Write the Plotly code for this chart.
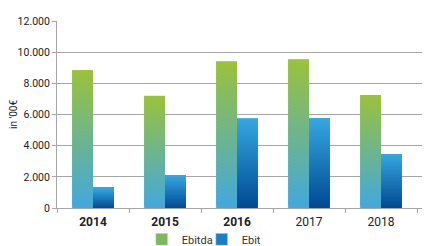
import plotly.graph_objects as go

years = ["2014", "2015", "2016", "2017", "2018"]
year_labels = ["<b>2014</b>", "<b>2015</b>", "<b>2016</b>", "2017", "2018"]
ebitda = [8850, 7200, 9420, 9550, 7250]
ebit = [1300, 2100, 5760, 5770, 3460]
y_ticks = [0, 2000, 4000, 6000, 8000, 10000, 12000]

N = 40

def lerp(c1, c2, t):
    return "rgb(%d,%d,%d)" % tuple(round(a + (b - a) * t) for a, b in zip(c1, c2))

series = [
    ("Ebitda", ebitda, (66, 168, 222), (155, 194, 58), "0", "#7fb85c"),
    ("Ebit", ebit, (0, 74, 146), (54, 167, 225), "1", "#1a7fc6"),
]

fig = go.Figure()
for name, vals, c_bot, c_top, og, legcol in series:
    for k in range(N):
        t = (k + 0.5) / N
        col = lerp(c_bot, c_top, t)
        h = 1.0 if k == N - 1 else 1.8
        fig.add_trace(go.Bar(
            x=years,
            y=[v * h / N for v in vals],
            base=[v * k / N for v in vals],
            offsetgroup=og,
            marker=dict(color=col, line=dict(width=0)),
            showlegend=False,
            legendgroup=name,
            hoverinfo="skip",
        ))
    fig.add_trace(go.Bar(
        x=[None], y=[None], name=name, offsetgroup=og,
        marker=dict(color=legcol), legendgroup=name, showlegend=True,
    ))

fig.update_layout(
    width=422, height=238,
    margin=dict(l=49, r=0, t=13, b=38, autoexpand=False),
    paper_bgcolor="white", plot_bgcolor="white",
    barmode="group", bargap=0.42, bargroupgap=0,
    separators=",.",
    font=dict(family="Roboto, Liberation Sans, sans-serif", color="#222222"),
    legend=dict(orientation="h", x=0.388, xanchor="center", y=-0.09, yanchor="top",
                font=dict(size=11, color="#333333"), itemwidth=30, entrywidth=15,
                tracegroupgap=0, traceorder="normal", bgcolor="rgba(0,0,0,0)"),
    yaxis=dict(
        range=[0, 12000], tickvals=y_ticks, tickformat=",d",
        showgrid=True, gridcolor="#a6a6a6", gridwidth=1,
        showline=True, linecolor="#a6a6a6", linewidth=1,
        ticks="outside", ticklen=4, tickcolor="#a6a6a6",
        tickfont=dict(size=10.5, color="#222222"),
        title=dict(text="in '00€", font=dict(size=10, color="#222222"), standoff=10),
        zeroline=False,
    ),
    xaxis=dict(
        type="category", tickvals=years, ticktext=year_labels,
        range=[-0.5, 4.68],
        showline=True, linecolor="#a6a6a6", linewidth=1,
        ticks="outside", tickson="boundaries", ticklen=4, tickcolor="#a6a6a6",
        tickfont=dict(size=12, color="#222222"), ticklabelstandoff=3,
    ),
)

fig.write_html("out.html")
